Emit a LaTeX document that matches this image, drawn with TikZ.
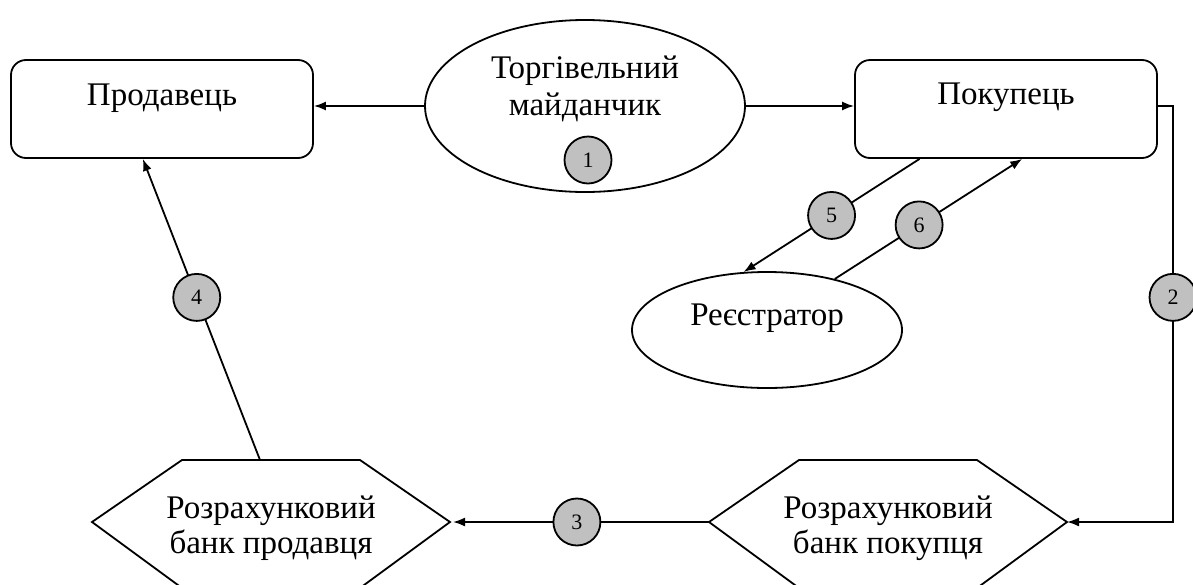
\documentclass[tikz,border=0pt]{standalone}
\usepackage{fontspec}
\setmainfont{Liberation Serif}
\usetikzlibrary{shapes.geometric,arrows.meta,calc}
\definecolor{numgray}{RGB}{192,192,192}
% hexagonal bank symbol: name, centre x
\newcommand\bankhex[2]{%
  \coordinate (#1L) at ({#2-179},522);
  \coordinate (#1R) at ({#2+179},522);
  \draw[conn] (#1L) -- ({#2-89},460) -- ({#2+89},460) -- (#1R)
    -- ({#2+89},588) -- ({#2-89},588) -- cycle;
}
\begin{document}
\begin{tikzpicture}[x=1pt,y=-1pt,
  txt/.style={inner sep=0pt, anchor=base, font=\fontsize{33}{40}\selectfont},
  box/.style={draw, rounded corners=15pt, minimum width=302pt, minimum height=98pt,
    line width=1.8pt, inner sep=0pt},
  oval/.style={draw, ellipse, line width=1.8pt, inner sep=0pt},
  num/.style={draw, circle, fill=numgray, minimum size=47pt, inner sep=0pt,
    line width=1.8pt, font=\fontsize{22}{22}\selectfont},
  conn/.style={line width=1.8pt},
  arr/.style={conn, -{Latex[length=12pt,width=9pt]}},
]
\useasboundingbox (0,0) rectangle (1193,584);

% participants
\node[box] (seller) at (162,109) {};
\node[txt] (sellerT) at (162,105) {Продавець};
\node[box] (buyer) at (1006,109) {};
\node[txt] (buyerT) at (1006,104) {Покупець};
\node[oval, minimum width=320pt, minimum height=172pt] (market) at (585,106) {};
\node[txt] (marketT1) at (585,78) {Торгівельний};
\node[txt] (marketT2) at (585,115) {майданчик};
\node[num] (n1) at (588,160) {1};
\node[oval, minimum width=270pt, minimum height=116pt] (reg) at (767,330) {};
\node[txt] (regT) at (767,325) {Реєстратор};

% banks
\bankhex{sbank}{271}
\node[txt] (sbankT1) at (271,518) {Розрахунковий};
\node[txt] (sbankT2) at (271,553) {банк продавця};
\bankhex{bbank}{888}
\node[txt] (bbankT1) at (888,518) {Розрахунковий};
\node[txt] (bbankT2) at (888,553) {банк покупця};
\coordinate (sbankTop) at (260,460);
\coordinate (turn) at (1173,106);

% flows
\draw[arr] (market.west) -- (market.west -| seller.east);
\draw[arr] (market.east) -- (market.east -| buyer.west);
\draw[arr] (market.east -| buyer.east) -- (turn) -- (turn |- bbankR)
  node[num, pos=0.46] (n2) {2} -- (bbankR);
\draw[arr, shorten >=3pt] (bbankL) -- (sbankR) node[num, pos=0.51] (n3) {3};
\draw[arr] (sbankTop) -- (seller.249.8) node[num, pos=0.54] (n4) {4};
\draw[arr] (buyer.210.5) -- (reg.112.5) node[num, pos=0.5] (n5) {5};
\draw[arr] (reg.37.4) -- (buyer.288.1) node[num, pos=0.45] (n6) {6};
\end{tikzpicture}
\end{document}
